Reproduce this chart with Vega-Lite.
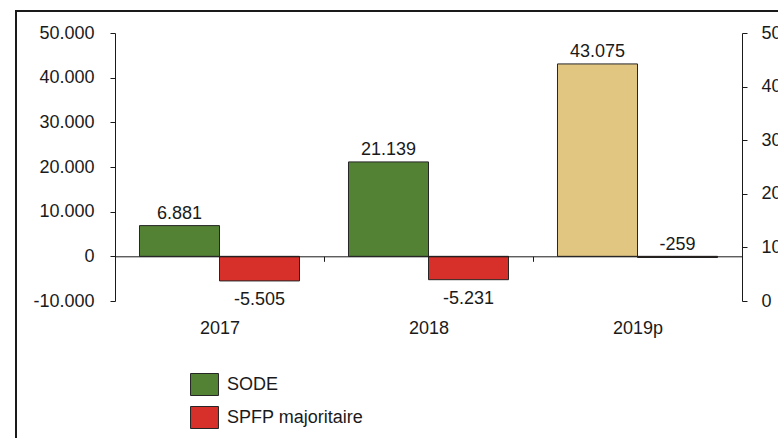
{
  "$schema": "https://vega.github.io/schema/vega-lite/v6.json",
  "autosize": {"type": "none"},
  "width": 764,
  "height": 429,
  "padding": {"left": 16, "top": 11, "right": -2, "bottom": -2},
  "background": "white",
  "config": {
    "locale": {"number": {"decimal": ",", "thousands": ".", "grouping": [3], "currency": ["", " €"], "minus": "-"}},
    "view": {"stroke": "#1a1a1a", "strokeWidth": 2},
    "font": "Liberation Sans",
    "axis": {
      "labelFont": "Liberation Sans",
      "labelFontSize": 18,
      "labelColor": "#1a1a1a",
      "domainColor": "#1a1a1a",
      "tickColor": "#1a1a1a",
      "domainWidth": 1,
      "tickWidth": 1,
      "grid": false,
      "title": null
    }
  },
  "data": {
    "values": [
      {"year": "2017", "series": "SODE", "kind": "SODE", "value": 6881},
      {"year": "2017", "series": "SPFP majoritaire", "kind": "SPFP majoritaire", "value": -5505},
      {"year": "2018", "series": "SODE", "kind": "SODE", "value": 21139},
      {"year": "2018", "series": "SPFP majoritaire", "kind": "SPFP majoritaire", "value": -5231},
      {"year": "2019p", "series": "SODE", "kind": "SODE prévision", "value": 43075},
      {"year": "2019p", "series": "SPFP majoritaire", "kind": "SPFP majoritaire", "value": -259}
    ]
  },
  "layer": [
    {
      "encoding": {
        "x": {
          "field": "year",
          "type": "nominal",
          "sort": ["2017", "2018", "2019p"],
          "scale": {"domain": ["2017", "2018", "2019p"], "range": [99, 726], "paddingInner": 0, "paddingOuter": 0},
          "axis": {
            "orient": "bottom",
            "offset": -183.7,
            "tickBand": "extent",
            "tickSize": 5,
            "labelPadding": 58,
            "labelAngle": 0,
            "zindex": 1
          }
        },
        "xOffset": {
          "field": "series",
          "type": "nominal",
          "sort": ["SODE", "SPFP majoritaire"],
          "scale": {"paddingOuter": 0.306, "paddingInner": 0}
        },
        "y": {
          "field": "value",
          "type": "quantitative",
          "scale": {"domain": [-10000, 50000], "range": [290, 22], "nice": false},
          "axis": {
            "orient": "left",
            "offset": -99,
            "values": [-10000, 0, 10000, 20000, 30000, 40000, 50000],
            "labelExpr": "format(datum.value, ',')",
            "tickSize": 5,
            "labelPadding": 16
          }
        }
      },
      "layer": [
        {
          "mark": {"type": "bar", "stroke": "#262626", "strokeWidth": 1},
          "encoding": {
            "color": {
              "field": "kind",
              "type": "nominal",
              "scale": {"domain": ["SODE", "SPFP majoritaire", "SODE prévision"], "range": ["#548235", "#D72F29", "#E1C682"]},
              "legend": {
                "values": ["SODE", "SPFP majoritaire"],
                "orient": "none",
                "legendX": 177,
                "legendY": 362,
                "title": null,
                "padding": 0,
                "symbolType": "M-1.27,-1H1.27V1H-1.27Z",
                "symbolSize": 484,
                "symbolStrokeColor": "#262626",
                "symbolStrokeWidth": 1,
                "symbolOpacity": 1,
                "labelFont": "Liberation Sans",
                "labelFontSize": 18,
                "labelColor": "#1a1a1a",
                "labelOffset": 11,
                "rowPadding": 6
              }
            }
          }
        },
        {
          "transform": [{"filter": "datum.value >= -1000"}],
          "mark": {"type": "text", "baseline": "alphabetic", "dy": -7, "font": "Liberation Sans", "fontSize": 18, "color": "#1a1a1a"},
          "encoding": {"text": {"field": "value", "type": "quantitative", "format": ","}}
        },
        {
          "transform": [{"filter": "datum.value < -1000"}],
          "mark": {"type": "text", "baseline": "top", "dy": 10, "font": "Liberation Sans", "fontSize": 18, "color": "#1a1a1a"},
          "encoding": {"text": {"field": "value", "type": "quantitative", "format": ","}}
        }
      ]
    },
    {
      "mark": {"type": "point", "opacity": 0},
      "encoding": {
        "y": {
          "datum": 0,
          "type": "quantitative",
          "scale": {"domain": [0, 50], "range": [290, 22], "nice": false},
          "axis": {
            "orient": "right",
            "offset": -38,
            "values": [0, 10, 20, 30, 40, 50],
            "tickSize": 5,
            "labelPadding": 14
          }
        }
      }
    }
  ],
  "resolve": {"scale": {"y": "independent"}, "axis": {"y": "independent"}}
}
